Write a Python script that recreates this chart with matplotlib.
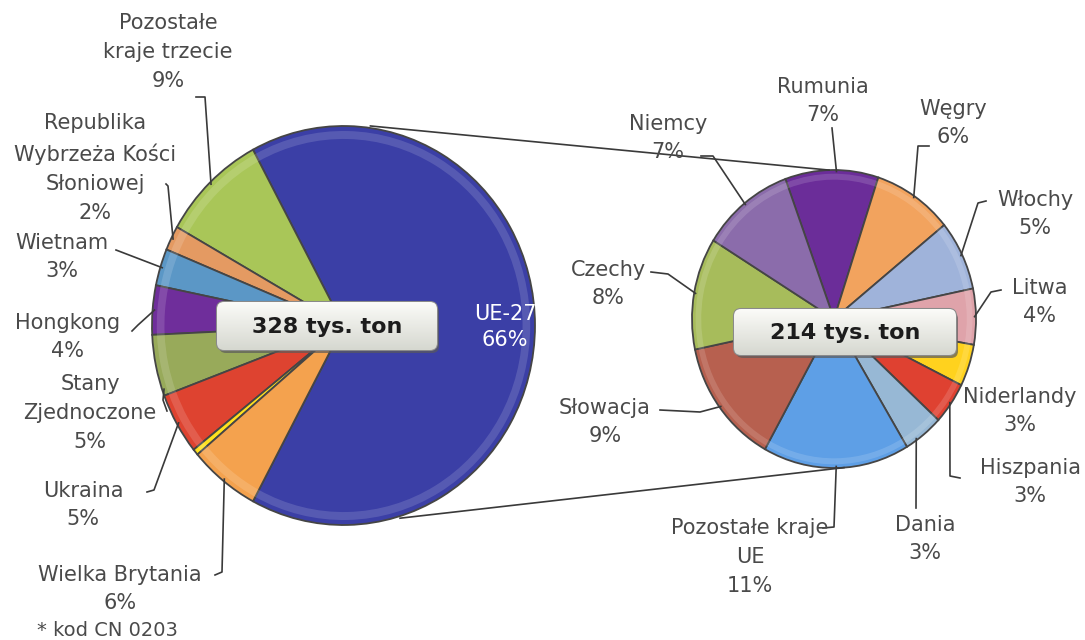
import numpy as np
import matplotlib.pyplot as plt
from matplotlib.patches import FancyBboxPatch
from matplotlib.colors import LinearSegmentedColormap

plt.rcParams['font.family'] = ['DejaVu Sans']

# lewy wykres: struktura eksportu ogolem (udzial w %)
left_labels = ['UE-27', 'Pozostałe\nkraje trzecie', 'Republika\nWybrzeża Kości\nSłoniowej',
               'Wietnam', 'Hongkong', 'Stany\nZjednoczone', 'Ukraina', '', 'Wielka Brytania']
left_values = [66, 9, 2, 3, 4, 5, 5, 0.5, 6]
left_colors = ['#3B3FA6', '#A9C658', '#E49A62', '#5B97C6', '#6F2E9B', '#98AA5A',
               '#DE4330', '#FFE11E', '#F4A24E']
left_total = '328 tys. ton'

# prawy wykres: rozbicie UE-27 (udzial w eksporcie ogolem, %)
right_labels = ['Rumunia', 'Węgry', 'Włochy', 'Litwa', 'Niderlandy', 'Hiszpania', 'Dania',
                'Pozostałe kraje\nUE', 'Słowacja', 'Czechy', 'Niemcy']
right_values = [7, 6, 5, 4, 3, 3, 3, 11, 9, 8, 7]
right_colors = ['#6B2D99', '#F2A35E', '#9FB3DA', '#DFA3AA', '#FFD21E', '#DF4131',
                '#97B8D5', '#5E9FE6', '#B7604F', '#A7BC5B', '#8B6CAB']
right_total = '214 tys. ton'

W, H = 1085, 640
fig = plt.figure(figsize=(W / 100, H / 100), dpi=100)

# polozenie kol w pikselach (x0, y0, x1, y1)
lbox = (152, 126, 535, 525)
rbox = (692, 170, 976, 468)


def pie_axes(box):
    x0, y0, x1, y1 = box
    return fig.add_axes([x0 / W, 1 - y1 / H, (x1 - x0) / W, (y1 - y0) / H])


def to_px(box, ang, r=1.0):
    x0, y0, x1, y1 = box
    cx, cy = (x0 + x1) / 2, (y0 + y1) / 2
    rx, ry = (x1 - x0) / 2, (y1 - y0) / 2
    a = np.deg2rad(ang)
    return cx + r * rx * np.cos(a), cy - r * ry * np.sin(a)


def wedge_angle(vals, start, i, frac, ccw):
    tot = float(sum(vals))
    a0 = sum(vals[:i]) / tot * 360
    a = a0 + vals[i] / tot * 360 * frac
    return start + a if ccw else start - a


axl = pie_axes(lbox)
l_start = -left_values[0] / sum(left_values) * 360 / 2
wl, _ = axl.pie(left_values, colors=left_colors, startangle=l_start, counterclock=True,
                wedgeprops=dict(edgecolor='#454545', linewidth=1.3))
axl.pie(left_values, colors=['white'] * len(left_values), startangle=l_start, radius=0.975,
        wedgeprops=dict(width=0.04, edgecolor='none', alpha=0.14))
axl.set_xlim(-1, 1); axl.set_ylim(-1, 1); axl.set_aspect('auto'); axl.axis('off')

axr = pie_axes(rbox)
r_start = 110
wr, _ = axr.pie(right_values, colors=right_colors, startangle=r_start, counterclock=False,
                wedgeprops=dict(edgecolor='#454545', linewidth=1.3))
axr.pie(right_values, colors=['white'] * len(right_values), startangle=r_start, counterclock=False,
        radius=0.975, wedgeprops=dict(width=0.04, edgecolor='none', alpha=0.14))
axr.set_xlim(-1, 1); axr.set_ylim(-1, 1); axr.set_aspect('auto'); axr.axis('off')

# warstwa na teksty i linie, w pikselach
ax = fig.add_axes([0, 0, 1, 1], zorder=5)
ax.set_xlim(0, W); ax.set_ylim(H, 0); ax.axis('off')
ax.patch.set_alpha(0)

# linie laczace oba kola
for la, ra in [(82, 92), (-73, -86)]:
    p1 = to_px(lbox, la, 1.01)
    p2 = to_px(rbox, ra, 1.0)
    ax.plot([p1[0], p2[0]], [p1[1], p2[1]], color='#3a3a3a', lw=1.2)

txt = dict(fontsize=15, color='#4a4a4a', ha='center', va='center', linespacing=1.56)

# (pozycja tekstu, punkty linii odniesienia, ulamek klina)
left_pos = {
    1: ((168, 52), [(196, 97), (205, 97)], 0.5),
    2: ((95, 168), [(166, 184), (168, 186)], 0.5),
    3: ((62, 257), [(116, 250)], 0.5),
    4: ((68, 337), [(132, 331), (138, 325)], 0.5),
    5: ((90, 413), [(167, 411), (163, 400)], 0.9),
    6: ((83, 505), [(147, 492), (154, 490)], 0.5),
    8: ((120, 589), [(215, 575), (222, 572)], 0.5),
}
for i, ((tx, ty), pts, frac) in left_pos.items():
    ax.text(tx, ty, '{}\n{}%'.format(left_labels[i], left_values[i]), **txt)
    end = to_px(lbox, wedge_angle(left_values, l_start, i, frac, True), 0.99)
    xs = [p[0] for p in pts] + [end[0]]
    ys = [p[1] for p in pts] + [end[1]]
    ax.plot(xs, ys, color='#3a3a3a', lw=1.2)

right_pos = {
    0: ((823, 101), [(832, 128)], 0.55),
    1: ((953, 123), [(929, 146), (918, 146)], 0.5),
    2: ((1035, 214), [(986, 201), (978, 203)], 0.5),
    3: ((1040, 302), [(1001, 290), (991, 292)], 0.5),
    4: ((1020, 411), [], 0.5),
    5: ((1030, 482), [(960, 478), (950, 476)], 0.5),
    6: ((925, 539), [(916, 508)], 0.7),
    7: ((750, 557), [(823, 528), (834, 527)], 0.5),
    8: ((605, 422), [(660, 410), (700, 412)], 0.5),
    9: ((608, 284), [(651, 272), (668, 274)], 0.5),
    10: ((668, 138), [(701, 156), (713, 156)], 0.5),
}
for i, ((tx, ty), pts, frac) in right_pos.items():
    ax.text(tx, ty, '{}\n{}%'.format(right_labels[i], right_values[i]), **txt)
    if pts:
        end = to_px(rbox, wedge_angle(right_values, r_start, i, frac, False), 0.99)
        xs = [p[0] for p in pts] + [end[0]]
        ys = [p[1] for p in pts] + [end[1]]
        ax.plot(xs, ys, color='#3a3a3a', lw=1.2)

# etykieta UE-27 wewnatrz klina, przycieta do klina
t = ax.text(505, 327, '{}\n{}%'.format(left_labels[0], left_values[0]), fontsize=15,
            color='white', ha='center', va='center', linespacing=1.4)
t.set_clip_path(wl[0])

# ramki z wolumenem
grad = LinearSegmentedColormap.from_list('g', ['#FBFBF8', '#D6D8D0'])
for (x0, y0, w, h), label in [((217, 302, 220, 48), left_total), ((734, 309, 222, 46), right_total)]:
    sh = FancyBboxPatch((x0 + 2, y0 + 3), w, h, boxstyle='round,pad=0,rounding_size=7',
                        fc='#5a5a5a', ec='none', alpha=0.7)
    ax.add_patch(sh)
    box = FancyBboxPatch((x0, y0), w, h, boxstyle='round,pad=0,rounding_size=7',
                         fc='#ECEDE7', ec='#8a8a8a', lw=1.5)
    ax.add_patch(box)
    im = ax.imshow(np.linspace(0, 1, 50).reshape(-1, 1), cmap=grad, aspect='auto',
                   extent=[x0, x0 + w, y0 + h, y0], zorder=box.get_zorder() + 0.1)
    im.set_clip_path(box)
    ax.text(x0 + w / 2, y0 + h / 2 + 1, label, fontsize=16, fontweight='bold',
            color='#1c1c1c', ha='center', va='center', zorder=10)

ax.set_xlim(0, W); ax.set_ylim(H, 0)

ax.text(37, 630, '* kod CN 0203', fontsize=14, color='#4a4a4a', ha='left', va='center')

plt.savefig('out.png', dpi=100)
